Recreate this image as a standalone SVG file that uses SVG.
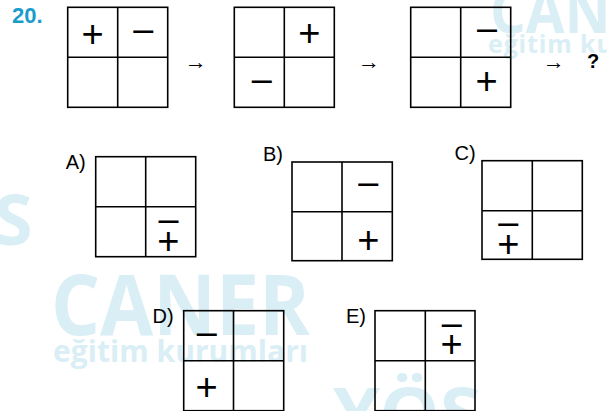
<svg xmlns="http://www.w3.org/2000/svg" width="607" height="411" viewBox="0 0 607 411">
<style>
.wm{font-family:"Open Sans","Liberation Sans",sans-serif;font-weight:700;fill:#d9eef5}
.box{fill:none;stroke:#000;stroke-width:1.6}
.g{stroke:#000;stroke-width:1.6}
.p{font-family:"Liberation Sans",Arial,sans-serif;font-size:38px;text-anchor:middle;fill:#000}
.m{font-family:"Liberation Sans",Arial,sans-serif;font-size:36px;text-anchor:middle;fill:#000}
.lbl{font-family:"Liberation Sans",Arial,sans-serif;font-size:20px;fill:#000}
.ar{font-family:"Liberation Sans",Arial,sans-serif;font-size:22px;fill:#000}
</style>
<rect width="607" height="411" fill="#fff"/>
<g id="watermark">
<text class="wm" x="51" y="335" font-size="84" textLength="259" lengthAdjust="spacingAndGlyphs">CANER</text>
<text class="wm" x="53" y="362" font-size="30" textLength="255" lengthAdjust="spacing">eğitim kurumları</text>
<text class="wm" x="490" y="33" font-size="61" textLength="189" lengthAdjust="spacingAndGlyphs">CANER</text>
<text class="wm" x="488" y="53" font-size="25" textLength="225" lengthAdjust="spacing">eğitim kurumları</text>
<text class="wm" x="-6" y="245" font-size="70">S</text>
<text class="wm" x="333" y="438" font-size="70" textLength="148" lengthAdjust="spacingAndGlyphs">YÖS</text>
</g>
<text id="qnum" x="12" y="23" font-family="Liberation Sans,Arial,sans-serif" font-size="22" font-weight="bold" fill="#1a9ccb">20.</text>
<g id="step1">
<rect class="box" x="67.7" y="7.3" width="100" height="100"/>
<line class="g" x1="117.7" y1="7.3" x2="117.7" y2="107.3"/>
<line class="g" x1="67.7" y1="57.3" x2="167.7" y2="57.3"/>
<text class="p" x="92.7" y="46.7">+</text>
<text class="m" x="143.3" y="40.5">–</text>
</g>
<g id="step2">
<rect class="box" x="234.3" y="7.3" width="100" height="100"/>
<line class="g" x1="284.3" y1="7.3" x2="284.3" y2="107.3"/>
<line class="g" x1="234.3" y1="57.3" x2="334.3" y2="57.3"/>
<text class="p" x="309.3" y="45.7">+</text>
<text class="m" x="261.7" y="90.5">–</text>
</g>
<g id="step3">
<rect class="box" x="410.7" y="7.3" width="100" height="100"/>
<line class="g" x1="460.7" y1="7.3" x2="460.7" y2="107.3"/>
<line class="g" x1="410.7" y1="57.3" x2="510.7" y2="57.3"/>
<text class="m" x="487" y="40.2">–</text>
<text class="p" x="486.7" y="94.4">+</text>
</g>
<g id="connectors">
<text class="ar" x="184.7" y="68.5">→</text>
<text class="ar" x="358" y="68.5">→</text>
<text class="ar" x="542.7" y="68.5">→</text>
</g>
<text id="question" x="587" y="68" font-family="Liberation Sans,Arial,sans-serif" font-size="20" font-weight="bold" fill="#000">?</text>
<g id="optA">
<text class="lbl" x="65.7" y="168.5">A)</text>
<rect class="box" x="95.7" y="156.7" width="100" height="100"/>
<line class="g" x1="145.7" y1="156.7" x2="145.7" y2="256.7"/>
<line class="g" x1="95.7" y1="206.7" x2="195.7" y2="206.7"/>
<text class="m" x="168.6" y="230.5">–</text>
<text class="p" x="168.3" y="253.9">+</text>
</g>
<g id="optB">
<text class="lbl" x="263" y="160.5">B)</text>
<rect class="box" x="292" y="162" width="100.3" height="98.7"/>
<line class="g" x1="342" y1="162" x2="342" y2="260.7"/>
<line class="g" x1="292" y1="211.7" x2="392.3" y2="211.7"/>
<text class="m" x="368.3" y="193.8">–</text>
<text class="p" x="368.3" y="252.7">+</text>
</g>
<g id="optC">
<text class="lbl" x="454.5" y="160">C)</text>
<rect class="box" x="482" y="160.7" width="100.3" height="98.6"/>
<line class="g" x1="532.3" y1="160.7" x2="532.3" y2="259.3"/>
<line class="g" x1="482" y1="210.7" x2="582.3" y2="210.7"/>
<text class="m" x="508.3" y="233.5">–</text>
<text class="p" x="508.3" y="256.7">+</text>
</g>
<g id="optD">
<text class="lbl" x="152.5" y="323.3">D)</text>
<rect class="box" x="183.7" y="310.7" width="100" height="100"/>
<line class="g" x1="233.5" y1="310.7" x2="233.5" y2="410.7"/>
<line class="g" x1="183.7" y1="360.7" x2="283.7" y2="360.7"/>
<text class="m" x="206.7" y="343.5">–</text>
<text class="p" x="206.7" y="400.1">+</text>
</g>
<g id="optE">
<text class="lbl" x="346" y="322.7">E)</text>
<rect class="box" x="375" y="310.7" width="100" height="100"/>
<line class="g" x1="425.3" y1="310.7" x2="425.3" y2="410.7"/>
<line class="g" x1="375" y1="360.7" x2="475" y2="360.7"/>
<text class="m" x="451.7" y="334.5">–</text>
<text class="p" x="451.7" y="356.7">+</text>
</g>
</svg>
